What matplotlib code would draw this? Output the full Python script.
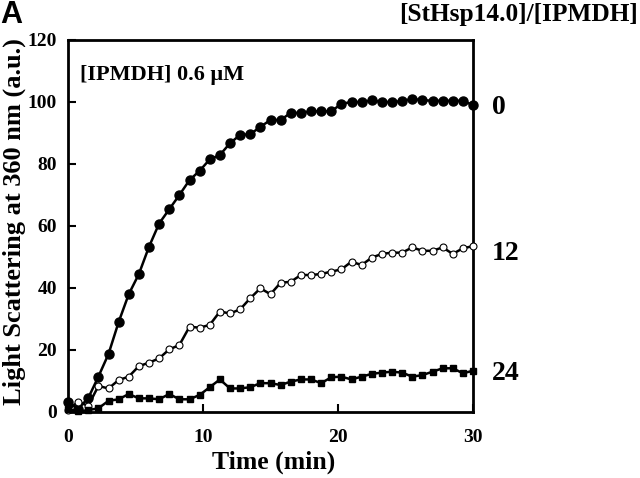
import matplotlib
matplotlib.use("Agg")
import matplotlib.pyplot as plt
import numpy as np

time_min = [i * 0.75 for i in range(41)]

ratio_0 = [3.3, 1.0, 4.5, 11.4, 18.7, 29.0, 38.0, 44.5, 53.3, 60.8, 65.4, 70.0, 74.8, 77.8,
           81.5, 82.9, 86.7, 89.4, 89.6, 92.0, 94.2, 94.2, 96.5, 96.5, 97.0, 97.0, 97.0,
           99.4, 100.0, 100.0, 100.5, 100.0, 100.0, 100.3, 101.0, 100.6, 100.4, 100.4,
           100.4, 100.4, 99.0]

ratio_12 = [0.6, 3.3, 2.0, 8.4, 7.6, 10.3, 11.4, 14.8, 15.9, 17.3, 20.2, 21.6, 27.5, 27.2,
            28.1, 32.4, 31.8, 33.1, 36.7, 39.9, 38.0, 41.7, 42.0, 44.2, 44.2, 44.5, 45.3,
            46.0, 48.5, 47.4, 49.8, 51.0, 51.4, 51.4, 53.1, 52.0, 52.0, 53.1, 51.0, 52.8, 53.5]

ratio_24 = [1.0, 0.2, 0.6, 1.2, 3.6, 4.1, 5.8, 4.4, 4.4, 4.1, 5.8, 4.1, 4.1, 5.5,
            8.0, 10.5, 7.6, 7.6, 8.0, 9.3, 9.3, 8.7, 9.8, 10.5, 10.5, 9.3, 11.2,
            11.4, 10.5, 11.4, 12.3, 12.7, 13.0, 12.7, 11.4, 11.9, 13.0, 14.1, 14.1, 12.5, 13.3]

series_labels = ["0", "12", "24"]

plt.rcParams['font.family'] = ['Liberation Serif', 'DejaVu Serif']
plt.rcParams['font.weight'] = 'bold'

fig = plt.figure(figsize=(6.4, 4.78), dpi=100)
ax = fig.add_axes([68/640, 1-412/478, (473-68)/640, (412-40)/478])

ax.plot(time_min, ratio_0, '-', color='black', lw=1.8, marker='o', ms=6.5,
        mfc='black', mec='black', clip_on=False, zorder=3)
ax.plot(time_min, ratio_12, '-', color='black', lw=1.8, marker='o', ms=5,
        mfc='white', mec='black', mew=0.8, clip_on=False, zorder=3)
ax.plot(time_min, ratio_24, '-', color='black', lw=1.8, marker='s', ms=5,
        mfc='black', mec='black', clip_on=False, zorder=3)

ax.set_xlim(0, 30)
ax.set_ylim(0, 120)
ax.set_xticks([0, 10, 20, 30])
ax.set_yticks([0, 20, 40, 60, 80, 100, 120])
ax.tick_params(direction='in', length=6, width=1.5, labelsize=14)
ax.tick_params(axis='x', pad=12)
ax.tick_params(axis='y', pad=8)
for lab in ax.get_xticklabels() + ax.get_yticklabels():
    lab.set_fontweight('bold')
for s in ax.spines.values():
    s.set_linewidth(2)

fig.text(274/640, 1 - 462/478, "Time (min)", fontsize=18.5, fontweight='bold',
         ha='center', va='center')
fig.text(14/640, 1 - 222/478, "Light Scattering at 360 nm (a.u.)", fontsize=19,
         fontweight='bold', ha='center', va='center', rotation=90)

ax.text(0.03, 0.905, "[IPMDH] 0.6 \u03bcM", transform=ax.transAxes, fontsize=16,
        fontweight='bold', va='center', ha='left')

label_dy = [-2, -5, -2]
for lab, vals, dy in zip(series_labels, [ratio_0, ratio_12, ratio_24], label_dy):
    ax.annotate(lab, xy=(30, vals[-1]), xytext=(13.5, dy), textcoords='offset points',
                fontsize=20, fontweight='bold', va='center', ha='left',
                annotation_clip=False)

fig.text(638/640, 1 - 14/478, "[StHsp14.0]/[IPMDH]", fontsize=18.3,
         fontweight='bold', ha='right', va='center')
fig.text(0.0, 1 - 15/478, "A", fontsize=22, fontweight='bold', ha='left', va='center',
         family='Liberation Sans')

fig.savefig("out.png", dpi=100)
